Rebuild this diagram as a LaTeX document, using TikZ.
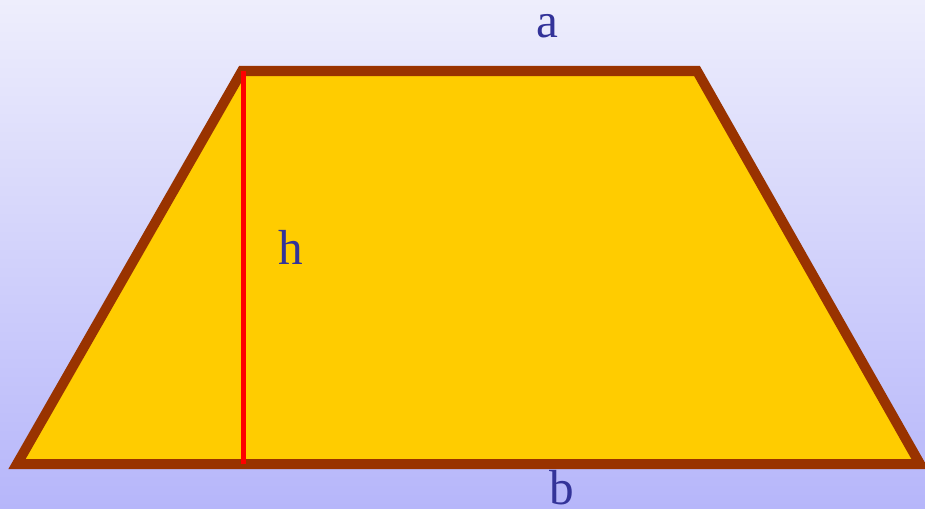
\documentclass[tikz,border=0pt]{standalone}
\usepackage{fontspec}
\setmainfont{Liberation Serif}
\definecolor{fundoTopo}{RGB}{238,238,252}
\definecolor{fundoBase}{RGB}{182,182,250}
\definecolor{preenche}{RGB}{255,204,0}
\definecolor{borda}{RGB}{153,51,0}
\definecolor{rotulo}{RGB}{51,51,153}
\tikzset{
    lado/.style={line width=5.7pt, draw=borda, fill=preenche, line join=miter},
    altura/.style={line width=2.9pt, draw=red},
    letra/.style={text=rotulo, font=\fontsize{28}{30}\selectfont, inner sep=0pt, anchor=base}
}
\begin{document}
\begin{tikzpicture}[x=0.02cm, y=-0.02cm]
    % Fundo degradê
    \shade[top color=fundoTopo, bottom color=fundoBase] (0,0) rectangle (925,508);
    \useasboundingbox (0,0) rectangle (925,508);

    % Pontos do trapézio
    \coordinate (A) at (242,71);
    \coordinate (B) at (697,71);
    \coordinate (C) at (920,464);
    \coordinate (D) at (17,464);
    \coordinate (T) at (243.5,71);
    \coordinate (H) at (243.5,464);

    % Lados do trapézio
    \draw[lado] (A) -- (B) -- (C) -- (D) -- cycle;

    % Altura
    \draw[altura] (T) -- (H);

    % Bases e altura
    \node[letra] (la) at (547,37) {a};
    \node[letra] (lh) at (291,264) {h};
    \node[letra] (lb) at (562,504.5) {b};
\end{tikzpicture}
\end{document}
